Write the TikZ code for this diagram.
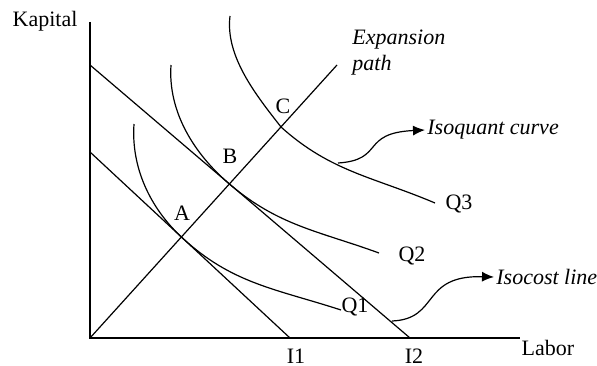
\documentclass[tikz,border=0pt]{standalone}
\usepackage{fontspec}
\setmainfont{Liberation Serif}
\usetikzlibrary{arrows.meta}
\begin{document}
\begin{tikzpicture}[
  x=0.5pt, y=0.5pt,
  every node/.style={font=\fontsize{11}{13}\selectfont, inner sep=1pt},
  axis/.style={line width=1.1pt},
  line/.style={line width=0.6pt},
  note/.style={font=\fontsize{11}{13}\selectfont\itshape, align=left, anchor=west},
  pointer/.style={-{Latex[length=6pt,width=5pt]}, line width=0.6pt}
]
\useasboundingbox (0,0) rectangle (597,365);
% axes
\coordinate (O) at (90,27);
\coordinate (ktop) at (90,343);
\coordinate (lend) at (520,27);
\draw[axis] (ktop) -- (O) -- (lend);
\node (kap) at (45,344) {Kapital};
\node (lab) at (548,17) {Labor};
% isocost lines
\coordinate (k1) at (90,213);
\coordinate (l1) at (290,27);
\coordinate (k2) at (90,300);
\coordinate (l2) at (410,27);
\draw[line] (k1) -- (l1);
\draw[line] (k2) -- (l2);
\node (i1) at (296,9) {I1};
\node (i2) at (414,9) {I2};
% expansion path
\coordinate (exp) at (337,300);
\draw[line] (O) -- (exp);
\node[note] (exptxt) at (350,312) {Expansion\\path};
% isoquants
\coordinate (A) at (181.4,128);
\coordinate (B) at (229.4,181);
\coordinate (C) at (281,238);
\draw[line] (134,241) to[out=-94,in=137,looseness=0.9] (A) to[out=-43,in=162] (341,55);
\draw[line] (171,300) to[out=-94,in=139.5,looseness=0.9] (B) to[out=-40.5,in=160] (379,112);
\draw[line] (230,349) to[out=-97,in=128,looseness=0.85] (C) to[out=-42,in=157] (435,162);
\node (q1) at (355,58) {Q1};
\node (q2) at (412,109) {Q2};
\node (q3) at (459,161) {Q3};
\node (a) at (182,152) {A};
\node (b) at (230,209) {B};
\node (c) at (283,259) {C};
% pointers
\node[note] (isoq) at (425,235) {Isoquant curve};
\node[note] (isoc) at (494,88) {Isocost line};
\coordinate (q3p) at (338,202);
\coordinate (l2p) at (392,44);
\draw[pointer] (q3p) .. controls (385,205) and (360,232) .. (isoq.west);
\draw[pointer] (l2p) .. controls (440,46) and (420,90) .. (isoc.west);
\end{tikzpicture}
\end{document}
